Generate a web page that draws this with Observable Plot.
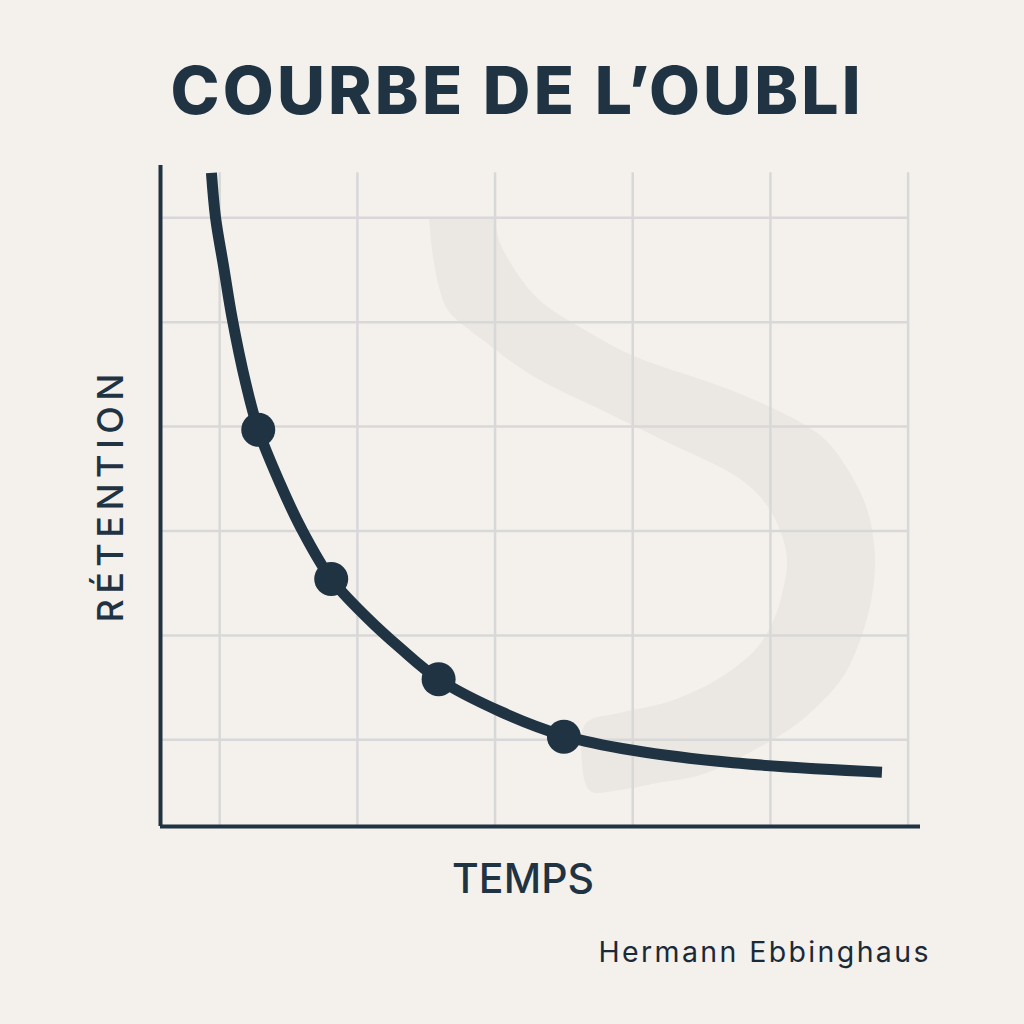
<!DOCTYPE html>
<html><head><meta charset="utf-8">
<script src="https://cdn.jsdelivr.net/npm/d3@7"></script>
<script src="https://cdn.jsdelivr.net/npm/@observablehq/plot@0.6"></script>
<style>
html,body{margin:0;padding:0;background:#f4f1ec;}
#chart{width:1024px;height:1024px;}
</style></head><body><div id="chart"></div>
<script>
// ---- texts ----
const title = "COURBE DE L’OUBLI";
const yLabel = "RÉTENTION";
const xLabel = "TEMPS";
const caption = "Hermann Ebbinghaus";

// ---- forgetting curve ----
const curveX = [-0.06, -0.03, 0.03, 0.09, 0.19, 0.28, 0.44, 0.59, 0.81, 1.07, 1.31, 1.59, 2.04, 2.50, 3.00, 3.73, 4.81];
const curveY = [6.43, 6.00, 5.52, 5.04, 4.41, 3.97, 3.45, 3.03, 2.54, 2.17, 1.88, 1.58, 1.27, 1.04, 0.90, 0.78, 0.69];

// ---- highlighted points ----
const pointX = [0.28, 0.81, 1.59, 2.50];
const pointY = [3.97, 2.54, 1.58, 1.03];

// ---- faint background "S" shape (outline) ----
const ribbonX = [2.00, 2.03, 2.18, 2.35, 2.66, 3.00, 3.73, 4.22, 4.41, 4.58, 4.70, 4.75, 4.76, 4.72, 4.63, 4.51, 4.22, 3.88, 3.51, 3.15, 2.91, 2.69,
                 2.63, 2.66, 2.91, 3.27, 3.64, 3.90, 4.02, 4.09, 4.12, 4.05, 3.93, 3.73, 3.25, 2.77, 2.28, 1.92, 1.66, 1.60, 1.55, 1.52];
const ribbonY = [5.99, 5.78, 5.43, 5.18, 4.92, 4.68, 4.34, 4.04, 3.86, 3.55, 3.22, 2.91, 2.65, 2.26, 1.88, 1.57, 1.18, 0.90, 0.67, 0.58, 0.52, 0.51,
                 0.80, 1.16, 1.26, 1.37, 1.60, 1.88, 2.14, 2.43, 2.74, 3.07, 3.32, 3.54, 3.85, 4.16, 4.48, 4.82, 5.11, 5.30, 5.62, 5.99];

// ---- grid ----
const gridX = [0, 1, 2, 3, 4, 5];
const gridY = [1, 2, 3, 4, 5, 6];
const xDomain = [-0.43, 5.09];
const yDomain = [0.17, 6.5];
const gridTop = 6.43;
const gridRight = 5.0;

const curve = curveX.map((x, i) => ({x, y: curveY[i]}));
const points = pointX.map((x, i) => ({x, y: pointY[i]}));
const ribbon = ribbonX.map((x, i) => ({x, y: ribbonY[i]}));

const ink = "#1f3343";
const bg = "#f4f1ec";

const plot = Plot.plot({
  width: 1024, height: 1024,
  marginLeft: 160, marginRight: 104, marginTop: 165, marginBottom: 198,
  x: {domain: xDomain, axis: null},
  y: {domain: yDomain, axis: null},
  style: {background: bg, fontFamily: "Inter, 'Noto Sans', sans-serif", color: ink, overflow: "visible"},
  marks: [
    Plot.line(ribbon, {x: "x", y: "y", curve: "catmull-rom", fill: "#ebe8e3", stroke: "none"}),
    Plot.ruleX(gridX, {y1: yDomain[0], y2: gridTop, stroke: "#d8d8d9", strokeWidth: 2.5}),
    Plot.ruleY(gridY, {x1: xDomain[0], x2: gridRight, stroke: "#d8d8d9", strokeWidth: 2.5}),
    Plot.ruleX([xDomain[0]], {y1: yDomain[0], y2: yDomain[1], stroke: ink, strokeWidth: 4}),
    Plot.ruleY([yDomain[0]], {x1: xDomain[0], x2: xDomain[1], stroke: ink, strokeWidth: 4}),
    Plot.line(curve, {x: "x", y: "y", curve: "catmull-rom", stroke: ink, strokeWidth: 11, strokeLinecap: "butt"}),
    Plot.dot(points, {x: "x", y: "y", r: 17, fill: ink}),
    Plot.text([title], {frameAnchor: "top", lineAnchor: "middle", textAnchor: "middle", dx: -25, dy: -73, fontSize: 66, fontWeight: 800, fill: ink}),
    Plot.text([yLabel], {frameAnchor: "left", lineAnchor: "middle", textAnchor: "middle", rotate: -90, dx: -48.6, dy: 2, fontSize: 36, fontWeight: 500, fill: ink}),
    Plot.text([xLabel], {frameAnchor: "bottom", lineAnchor: "middle", textAnchor: "middle", dx: -17.5, dy: 53, fontSize: 41, fontWeight: 500, fill: ink}),
    Plot.text([caption], {frameAnchor: "bottom-right", lineAnchor: "middle", textAnchor: "end", dx: 8, dy: 126, fontSize: 28.5, fontWeight: 400, fill: "#1a2a38"})
  ]
});

const lengths = new Map([[title, 690], [yLabel, 249], [xLabel, 142], [caption, 330]]);
plot.querySelectorAll("text").forEach(t => {
  const L = lengths.get(t.textContent);
  if (L) { t.setAttribute("textLength", L); t.setAttribute("lengthAdjust", "spacing"); }
});

document.getElementById("chart").appendChild(plot);
</script>
</body></html>
